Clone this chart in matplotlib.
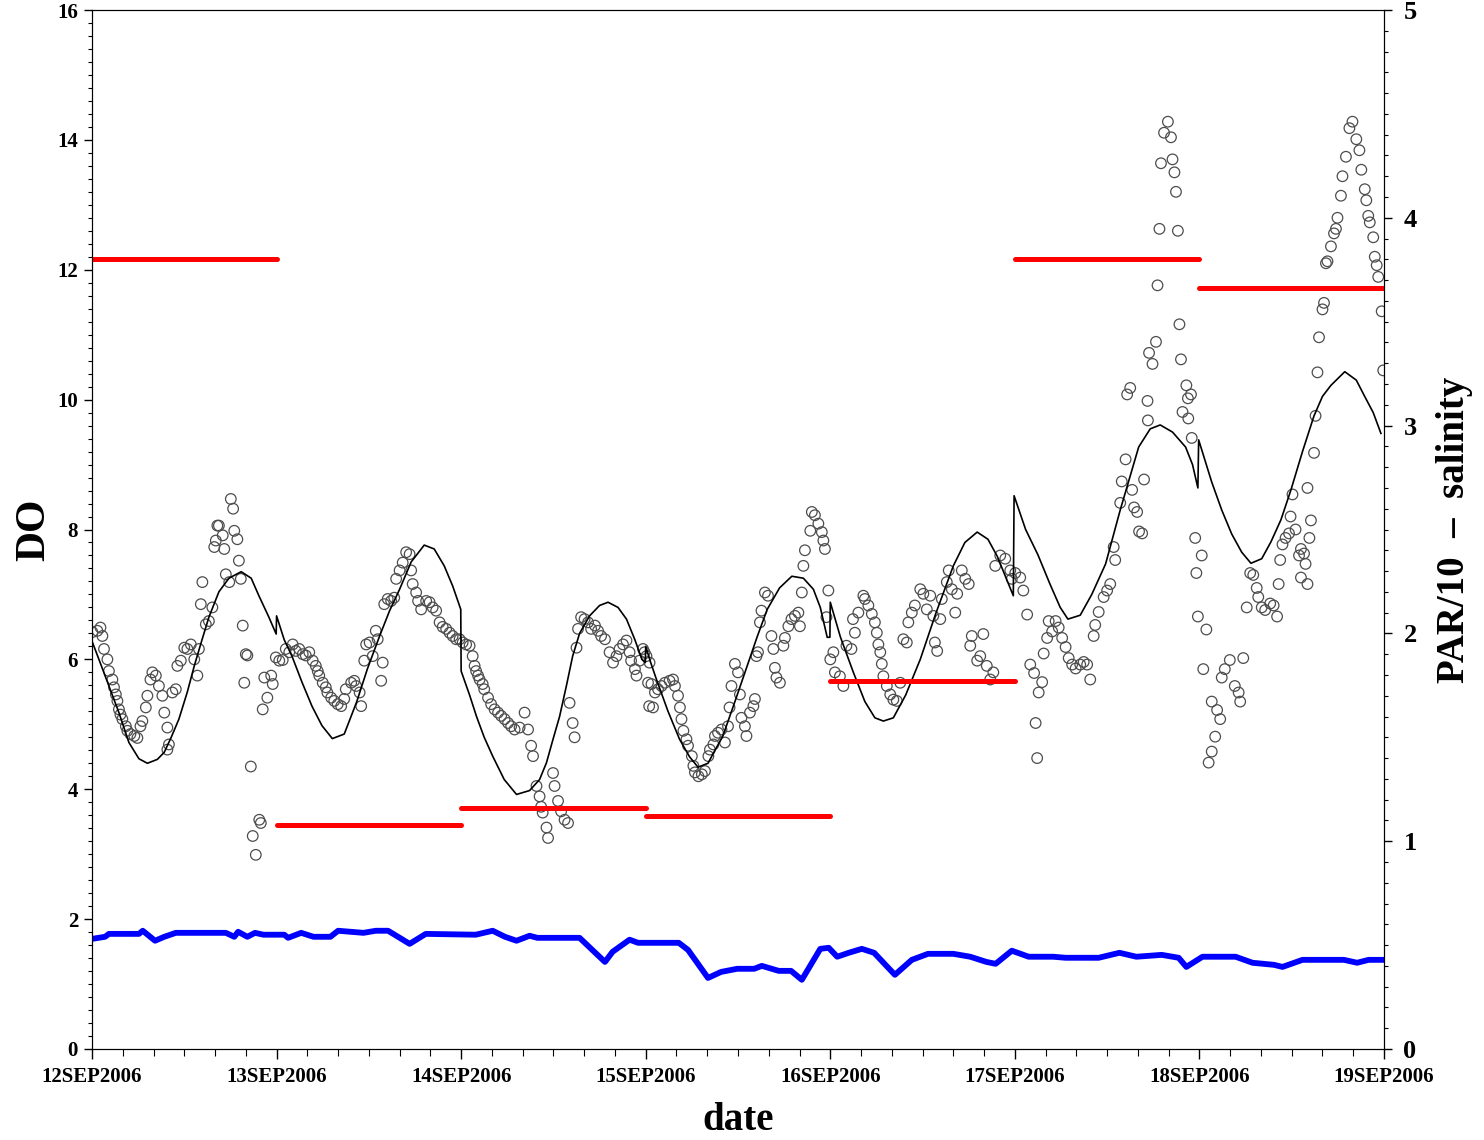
import numpy as np
import matplotlib
matplotlib.use('Agg')
import matplotlib.pyplot as plt
import matplotlib.dates as mdates
from matplotlib.ticker import MultipleLocator, FuncFormatter
from datetime import datetime

# hours after 12SEP2006 00:00 and observed DO (circles)
obs_hours = [
    0.05, 0.7, 1.1, 1.35, 1.56, 2.0, 2.2, 2.65, 2.86, 3.1, 3.3, 3.5, 3.7, 3.95, 4.4, 4.6, 5.0, 5.5, 5.9, 6.3,
    6.55, 7.0, 7.2, 7.6, 7.85, 8.3, 8.7, 9.15, 9.4, 9.8, 9.8, 10.0, 10.45, 10.9, 11.1, 11.55, 12.0, 12.4, 12.85,
    13.3, 13.7, 13.9, 14.15, 14.35, 14.8, 15.2, 15.65, 15.9, 16.1, 16.3, 16.5, 17.0, 17.2, 17.4, 17.85, 18.05,
    18.35, 18.5, 18.9, 19.1, 19.35, 19.6, 19.8, 20.0, 20.2, 20.65, 20.9, 21.3, 21.75, 21.95, 22.2, 22.4, 22.8,
    23.3, 23.5, 23.9,
    24.35, 24.8, 25.2, 25.65, 26.1, 26.5, 26.95, 27.4, 27.8, 28.25, 28.7, 29.1, 29.35, 29.55, 30.0, 30.4, 30.6,
    31.1, 31.5, 31.95, 32.4, 32.8, 33.0, 33.7, 34.1, 34.35, 34.8, 35.0, 35.4, 35.65, 36.1, 36.5, 36.9, 37.15,
    37.6, 37.8, 38.0, 38.45, 38.9, 39.3, 39.55, 40.0, 40.4, 40.85, 41.3, 41.5, 41.7, 42.15, 42.4, 42.8, 43.45,
    43.9, 44.3, 44.75, 45.2, 45.6, 46.05, 46.5, 46.9, 47.35, 47.8,
    48.2, 48.65, 49.1, 49.5, 49.75, 49.95, 50.2, 50.4, 50.8, 51.0, 51.5, 51.9, 52.35, 52.8, 53.2, 53.65, 54.1,
    54.5, 54.95, 55.6, 56.25, 56.7, 57.1, 57.35, 57.8, 58.2, 58.4, 58.6, 59.1, 59.3, 59.95, 60.15, 60.6, 61.0,
    61.45, 61.9, 62.1, 62.5, 62.75, 63.0, 63.2, 63.6, 64.05, 64.5, 64.9, 65.4, 65.8, 66.2, 66.7, 67.3, 67.75,
    68.2, 68.6, 69.05, 69.5, 69.9, 70.1, 70.6, 70.8, 71.2, 71.65, 71.85,
    72.1, 72.3, 72.45, 72.5, 72.75, 72.95, 73.2, 73.6, 74.05, 74.5, 75.1, 75.55, 75.8, 76.2, 76.45, 76.65,
    76.9, 77.3, 77.5, 78.0, 78.2, 78.4, 78.85, 79.3, 79.7, 80.15, 80.35, 80.8, 81.0, 81.4, 81.85, 82.3, 82.7,
    82.9, 83.15, 83.6, 84.0, 84.25, 84.45, 84.9, 85.1, 85.55, 86.0, 86.2, 86.4, 86.6, 86.85, 87.05, 87.5,
    87.9, 88.35, 88.6, 88.8, 89.0, 89.45, 89.9, 90.1, 90.55, 90.95, 91.4, 91.85, 92.05, 92.3, 92.5, 92.7,
    93.4, 93.6, 94.0, 94.45, 94.9, 95.1, 95.3, 95.5, 95.75,
    96.0, 96.4, 96.6, 97.25, 97.7, 98.1, 98.75, 98.95, 99.2, 99.65, 100.3, 100.5, 100.95, 101.4, 101.8,
    102.05, 102.25, 102.5, 102.7, 102.9, 103.35, 103.8, 104.2, 104.65, 105.1, 105.5, 105.95, 106.15, 106.6,
    107.0, 107.7, 108.1, 108.55, 109.0, 109.4, 109.6, 109.9, 110.3, 110.5, 111.15, 111.4, 111.8, 112.25,
    112.5, 113.1, 113.55, 114.0, 114.2, 114.4, 115.1, 115.5, 115.9, 116.35, 116.8, 117.2, 117.45, 118.1,
    118.75, 119.4, 119.6,
    120.05, 120.7, 121.1, 121.6, 122.0, 122.5, 122.7, 122.9, 123.1, 123.55, 123.75, 124.2, 124.4, 124.85,
    125.3, 125.7, 126.15, 126.6, 127.0, 127.45, 127.9, 128.5, 128.95, 129.4, 129.8, 130.25, 130.45, 130.9,
    131.55, 132.0, 132.4, 132.85, 133.05, 133.7, 133.9, 134.4, 134.6, 135.0, 135.25, 135.5, 135.9, 136.15,
    136.55, 136.8, 137.25, 137.3, 137.45, 137.9, 138.35, 138.55, 138.8, 139.0, 139.4, 139.9, 140.3, 140.5,
    140.75, 140.95, 141.2, 141.4, 141.6, 141.8, 142.3, 142.5, 142.55, 142.9, 143.0, 143.45, 143.6, 143.8,
    144.3, 144.5, 144.9, 145.2, 145.6, 145.6, 146.05, 146.3, 146.7, 146.9, 147.3, 147.95, 148.6, 149.1,
    149.3, 149.7, 150.15, 150.6, 151.0, 151.45, 151.65, 152.1, 152.55, 153.2, 153.65, 154.1, 154.3, 154.5,
    154.8, 155.2, 155.65, 155.85, 156.1, 156.5, 156.95, 157.2, 157.2, 157.6, 157.8, 158.05, 158.3, 158.5,
    158.05, 158.9, 159.1, 159.35, 159.55, 160.0, 160.2, 160.45, 160.65, 161.1, 161.5, 161.75, 161.95, 162.4,
    162.6, 163.05, 163.5, 163.9, 164.4, 164.8, 165.05, 165.5, 165.7, 165.95, 166.15, 166.6, 166.8, 167.05,
    167.25, 167.7, 167.9,
]
obs_do = [
    6.42, 6.44, 6.49, 6.36, 6.16, 6.0, 5.82, 5.69, 5.57, 5.46, 5.36, 5.23, 5.15, 5.08, 4.97, 4.90, 4.85, 4.82,
    4.79, 4.97, 5.05, 5.26, 5.44, 5.69, 5.80, 5.75, 5.59, 5.44, 5.18, 4.95, 4.61, 4.69, 5.49, 5.54, 5.90,
    5.98, 6.18, 6.16, 6.23, 6.0, 5.75, 6.16, 6.85, 7.19, 6.54, 6.59, 6.80, 7.73, 7.83, 8.06, 8.06, 7.91, 7.70,
    7.31, 7.19, 8.47, 8.32, 7.98, 7.85, 7.52, 7.24, 6.52, 5.64, 6.08, 6.06, 4.35, 3.28, 2.99, 3.53, 3.48,
    5.23, 5.72, 5.41, 5.75, 5.62, 6.03,
    5.98, 5.99, 6.16, 6.11, 6.23, 6.13, 6.16, 6.08, 6.06, 6.11, 5.98, 5.90, 5.82, 5.75, 5.64, 5.57, 5.49,
    5.41, 5.36, 5.31, 5.28, 5.39, 5.54, 5.64, 5.67, 5.59, 5.49, 5.28, 5.98, 6.23, 6.26, 6.05, 6.44, 6.31,
    5.67, 5.95, 6.85, 6.93, 6.90, 6.95, 7.24, 7.37, 7.49, 7.65, 7.62, 7.37, 7.16, 7.03, 6.90, 6.77, 6.90,
    6.88, 6.80, 6.75, 6.57, 6.50, 6.47, 6.41, 6.36, 6.31, 6.31,
    6.26, 6.23, 6.21, 6.05, 5.90, 5.82, 5.75, 5.69, 5.62, 5.54, 5.41, 5.31, 5.23, 5.18, 5.13, 5.08, 5.02,
    4.97, 4.92, 4.95, 5.18, 4.92, 4.67, 4.51, 4.05, 3.89, 3.73, 3.64, 3.41, 3.25, 4.25, 4.05, 3.82, 3.66,
    3.53, 3.48, 5.33, 5.02, 4.80, 6.18, 6.47, 6.65, 6.62, 6.57, 6.47, 6.52, 6.44, 6.36, 6.31, 6.11, 5.95,
    6.05, 6.16, 6.23, 6.29, 6.11, 5.98, 5.85, 5.75, 5.98, 6.16, 6.11,
    6.05, 5.64, 5.28, 5.95, 5.62, 5.26, 5.49, 5.54, 5.59, 5.64, 5.67, 5.69, 5.59, 5.44, 5.26, 5.08, 4.90,
    4.77, 4.67, 4.51, 4.36, 4.26, 4.20, 4.23, 4.28, 4.51, 4.61, 4.69, 4.82, 4.87, 4.92, 4.72, 4.97, 5.26,
    5.59, 5.93, 5.80, 5.46, 5.10, 4.97, 4.82, 5.18, 5.28, 5.39, 6.05, 6.11, 6.57, 6.75, 7.03, 6.98, 6.36,
    6.16, 5.87, 5.72, 5.64, 6.21, 6.33, 6.51, 6.62, 6.67, 6.72, 6.51, 7.03, 7.44, 7.68, 7.98, 8.27, 8.22,
    8.09, 7.96, 7.83, 7.70, 6.65, 7.06,
    6.00, 6.11, 5.80, 5.74, 5.59, 6.21, 6.16, 6.62, 6.41, 6.72, 6.98, 6.93, 6.83, 6.70, 6.57, 6.41, 6.23,
    6.11, 5.93, 5.74, 5.59, 5.46, 5.38, 5.36, 5.64, 6.31, 6.26, 6.57, 6.72, 6.83, 7.08, 7.01, 6.77, 6.98,
    6.67, 6.26, 6.13, 6.62, 6.93, 7.19, 7.37, 7.08, 6.72, 7.01, 7.37, 7.24, 7.16, 6.21, 6.36, 5.98, 6.05,
    6.39, 5.90, 5.69, 5.80, 7.44, 7.60, 7.55, 7.37, 7.24,
    7.33, 7.26, 7.06, 6.69, 5.92, 5.79, 5.02, 4.48, 5.49, 5.65, 6.09, 6.33, 6.59, 6.43, 6.59, 6.49, 6.33,
    6.19, 6.02, 5.92, 5.86, 5.92, 5.96, 5.92, 5.69, 6.36, 6.53, 6.73, 6.96, 7.06, 7.16, 7.73, 7.53, 8.41,
    8.74, 9.08, 10.08, 10.18, 8.61, 8.34, 8.27, 7.97, 7.94, 8.77, 9.98, 9.68, 10.72, 10.55, 10.89, 11.76,
    12.63, 13.64, 14.11, 14.28, 14.04, 13.70, 13.50, 13.20, 12.60, 11.16, 10.62, 9.81, 10.22, 10.02, 9.71,
    10.08, 9.41, 7.87, 7.33, 6.66,
    7.60, 5.85, 6.46, 4.41, 4.58, 5.35, 4.81, 5.22, 5.08, 5.72, 5.85, 5.99, 5.59, 5.49, 5.35, 6.02, 6.80,
    7.33, 7.30, 7.10, 6.96, 6.80, 6.76, 6.86, 6.83, 6.66, 7.16, 7.53, 7.77, 7.87, 7.94, 8.20, 8.54, 8.00,
    7.60, 7.70, 7.26, 7.63, 7.47, 7.16, 7.87, 8.14, 8.64, 9.18, 9.75, 10.42, 10.96, 11.39, 11.49, 12.10,
    12.13, 12.36, 12.56, 12.63, 12.80, 13.14, 13.44, 13.74, 14.18, 14.28, 14.01, 13.84, 13.54, 13.24, 13.07,
    12.83, 12.73, 12.50, 12.20, 12.07, 11.89, 11.36, 10.45,
]

# fitted DO curve (black line)
fit_hours = [0, 0.9, 2.2, 3.5, 4.8, 6.1, 7.2, 8.5, 9.4, 10.3, 11.3, 12.4, 13.3, 14.3, 15.2, 16.5, 17.8,
             19.4, 20.7, 21.7, 23.0, 23.95,
             24.0, 25.0, 26.0, 27.3, 28.6, 29.9, 31.25, 32.8, 34.4, 35.8, 37.4, 38.7, 40.0, 41.5, 43.2,
             44.5, 45.8, 46.9, 47.95,
             48.0, 49.1, 50.0, 51.0, 52.1, 53.6, 55.2, 56.9, 58.2, 59.1, 59.9, 60.8, 61.7, 62.5, 63.4,
             64.7, 66.0, 67.1, 68.4, 69.5, 70.6, 71.5, 71.95,
             72.0, 72.65, 73.4, 74.9, 76.4, 77.7, 78.8, 80.1, 81.0, 82.0, 83.6, 85.2, 86.5, 87.8, 89.4,
             91.0, 92.5, 93.8, 94.7, 95.6, 95.95,
             96.0, 97.3, 99.0, 100.5, 101.8, 102.9, 104.2, 105.8, 107.7, 109.7, 112.0, 113.5, 115.1,
             116.5, 117.7, 118.7, 119.8,
             119.9, 121.4, 123.0, 124.6, 125.9, 126.9, 128.5, 130.0, 131.8, 133.7, 136.1, 137.6, 138.9,
             140.5, 142.2, 143.1, 143.8,
             143.9, 144.9, 145.6, 146.9, 148.2, 149.5, 150.7, 152.1, 153.3, 154.6, 155.9, 157.4, 158.9,
             160.0, 161.1, 162.9, 164.4, 165.4, 166.6, 167.6]
fit_do = [6.28, 6.0, 5.59, 5.18, 4.72, 4.47, 4.40, 4.46, 4.57, 4.8, 5.08, 5.5, 5.90, 6.3, 6.65, 7.04, 7.25,
          7.35, 7.25, 6.98, 6.65, 6.39,
          6.67, 6.3, 6.05, 5.65, 5.28, 4.98, 4.78, 4.85, 5.34, 5.85, 6.36, 6.75, 7.08, 7.5, 7.76,
          7.7, 7.44, 7.13, 6.77,
          5.82, 5.45, 5.12, 4.8, 4.51, 4.15, 3.92, 3.98, 4.15, 4.41, 4.75, 5.12, 5.6, 6.05, 6.4,
          6.67, 6.83, 6.88, 6.8, 6.62, 6.3, 6.0, 5.95,
          6.2, 5.95, 5.69, 5.2, 4.77, 4.5, 4.34, 4.4, 4.6, 4.81, 5.35, 5.9, 6.35, 6.77, 7.1,
          7.28, 7.25, 7.08, 6.8, 6.34, 6.34,
          6.88, 6.35, 5.80, 5.35, 5.1, 5.05, 5.1, 5.45, 6.0, 6.7, 7.44, 7.8, 7.96,
          7.85, 7.59, 7.3, 6.98,
          8.52, 8.0, 7.61, 7.15, 6.8, 6.62, 6.68, 7.0, 7.47, 8.3, 9.27, 9.55, 9.61,
          9.5, 9.27, 9.0, 8.64,
          9.38, 9.0, 8.73, 8.3, 7.93, 7.65, 7.48, 7.55, 7.81, 8.15, 8.61, 9.2, 9.75,
          10.05, 10.22, 10.43, 10.3, 10.07, 9.8, 9.48]

# daily PAR/10 (red), one value per day
par_days = [0, 1, 2, 3, 4, 5, 6]
par10 = [3.80, 1.08, 1.16, 1.12, 1.77, 3.80, 3.66]

# salinity (blue)
sal_hours = [0, 1.7, 2.2, 6.1, 6.6, 8.2, 9.4, 10.9, 17.4, 18.5, 19.0, 20.2, 21.2, 22.3, 25.0, 25.5, 27.2,
             28.8, 31.0, 32.0, 35.3, 36.9, 38.5, 41.3, 43.4, 49.9, 52.1, 53.7, 55.2, 56.9, 57.9, 63.4,
             66.7, 67.7, 69.9, 71.0, 76.3, 77.5, 80.1, 81.8, 83.9, 86.1, 87.1, 89.3, 90.9, 92.3, 94.7,
             95.8, 96.9, 98.4, 100.1, 101.7, 104.4, 106.6, 108.7, 112.0, 114.2, 116.3, 117.5, 119.6,
             121.8, 125.0, 126.6, 130.9, 133.6, 135.8, 139.1, 141.3, 142.3, 144.4, 148.7, 150.9, 153.7,
             154.8, 157.4, 162.8, 164.5, 166.0, 167.7]
salinity = [0.530, 0.540, 0.554, 0.554, 0.569, 0.521, 0.540, 0.559, 0.559, 0.540, 0.564, 0.540, 0.559,
            0.550, 0.550, 0.535, 0.559, 0.540, 0.540, 0.569, 0.559, 0.569, 0.569, 0.506, 0.554, 0.550,
            0.569, 0.540, 0.521, 0.545, 0.535, 0.535, 0.419, 0.468, 0.526, 0.511, 0.511, 0.477, 0.342,
            0.371, 0.386, 0.386, 0.400, 0.376, 0.376, 0.333, 0.482, 0.487, 0.444, 0.463, 0.482, 0.463,
            0.357, 0.429, 0.458, 0.458, 0.444, 0.419, 0.410, 0.473, 0.444, 0.444, 0.439, 0.439, 0.463,
            0.444, 0.453, 0.439, 0.395, 0.444, 0.444, 0.415, 0.405, 0.395, 0.429, 0.429, 0.415, 0.429,
            0.429]

plt.rcParams['font.family'] = ['Liberation Serif', 'DejaVu Serif']
plt.rcParams['font.weight'] = 'bold'

t0 = mdates.date2num(datetime(2006, 9, 12))
def hx(h):
    return t0 + np.asarray(h) / 24.0

fig = plt.figure(figsize=(14.84, 11.4), dpi=100)
ax = fig.add_axes([92 / 1484, 91 / 1140, 1292 / 1484, 1039 / 1140])
ax2 = ax.twinx()

ax.scatter(hx(obs_hours), obs_do, s=58, facecolors='none', edgecolors='0.3', linewidths=0.9, zorder=2)
ax.plot(hx(fit_hours), fit_do, color='black', lw=1.2, zorder=3)

for d, v in zip(par_days, par10):
    ax2.plot([t0 + d, t0 + d + 1], [v, v], color='#ff0000', lw=3.6, solid_capstyle='round')
ax2.plot(hx(sal_hours), salinity, color='#0000ff', lw=4.2, solid_joinstyle='round')

ax.set_xlim(t0, t0 + 7)
ax.set_ylim(0, 16)
ax2.set_ylim(0, 5)

ax.xaxis.set_major_locator(mdates.DayLocator())
ax.xaxis.set_minor_locator(mdates.HourLocator(byhour=range(0, 24, 4)))
ax.xaxis.set_major_formatter(FuncFormatter(lambda v, p: mdates.num2date(v).strftime('%d%b%Y').upper()))
ax.yaxis.set_major_locator(MultipleLocator(2))
ax.yaxis.set_minor_locator(MultipleLocator(0.2))
ax2.yaxis.set_major_locator(MultipleLocator(1))
ax2.yaxis.set_minor_locator(MultipleLocator(0.1))

ax.tick_params(axis='both', which='major', length=6, width=1, labelsize=15, pad=4)
ax.tick_params(axis='both', which='minor', length=3, width=0.8)
ax.tick_params(axis='x', which='major', length=7, pad=6)
ax.tick_params(axis='x', which='minor', length=5)
ax2.tick_params(axis='y', which='major', length=6, width=1, labelsize=19, pad=8)
ax2.tick_params(axis='y', which='minor', length=3, width=0.8)

ax.set_xlabel('date', fontsize=28, fontweight='bold', labelpad=11)
ax.set_ylabel('DO', fontsize=30, fontweight='bold', labelpad=3)
ax2.set_ylabel('PAR/10  –  salinity', fontsize=28, fontweight='bold', labelpad=14)

fig.savefig('out.png', dpi=100)
